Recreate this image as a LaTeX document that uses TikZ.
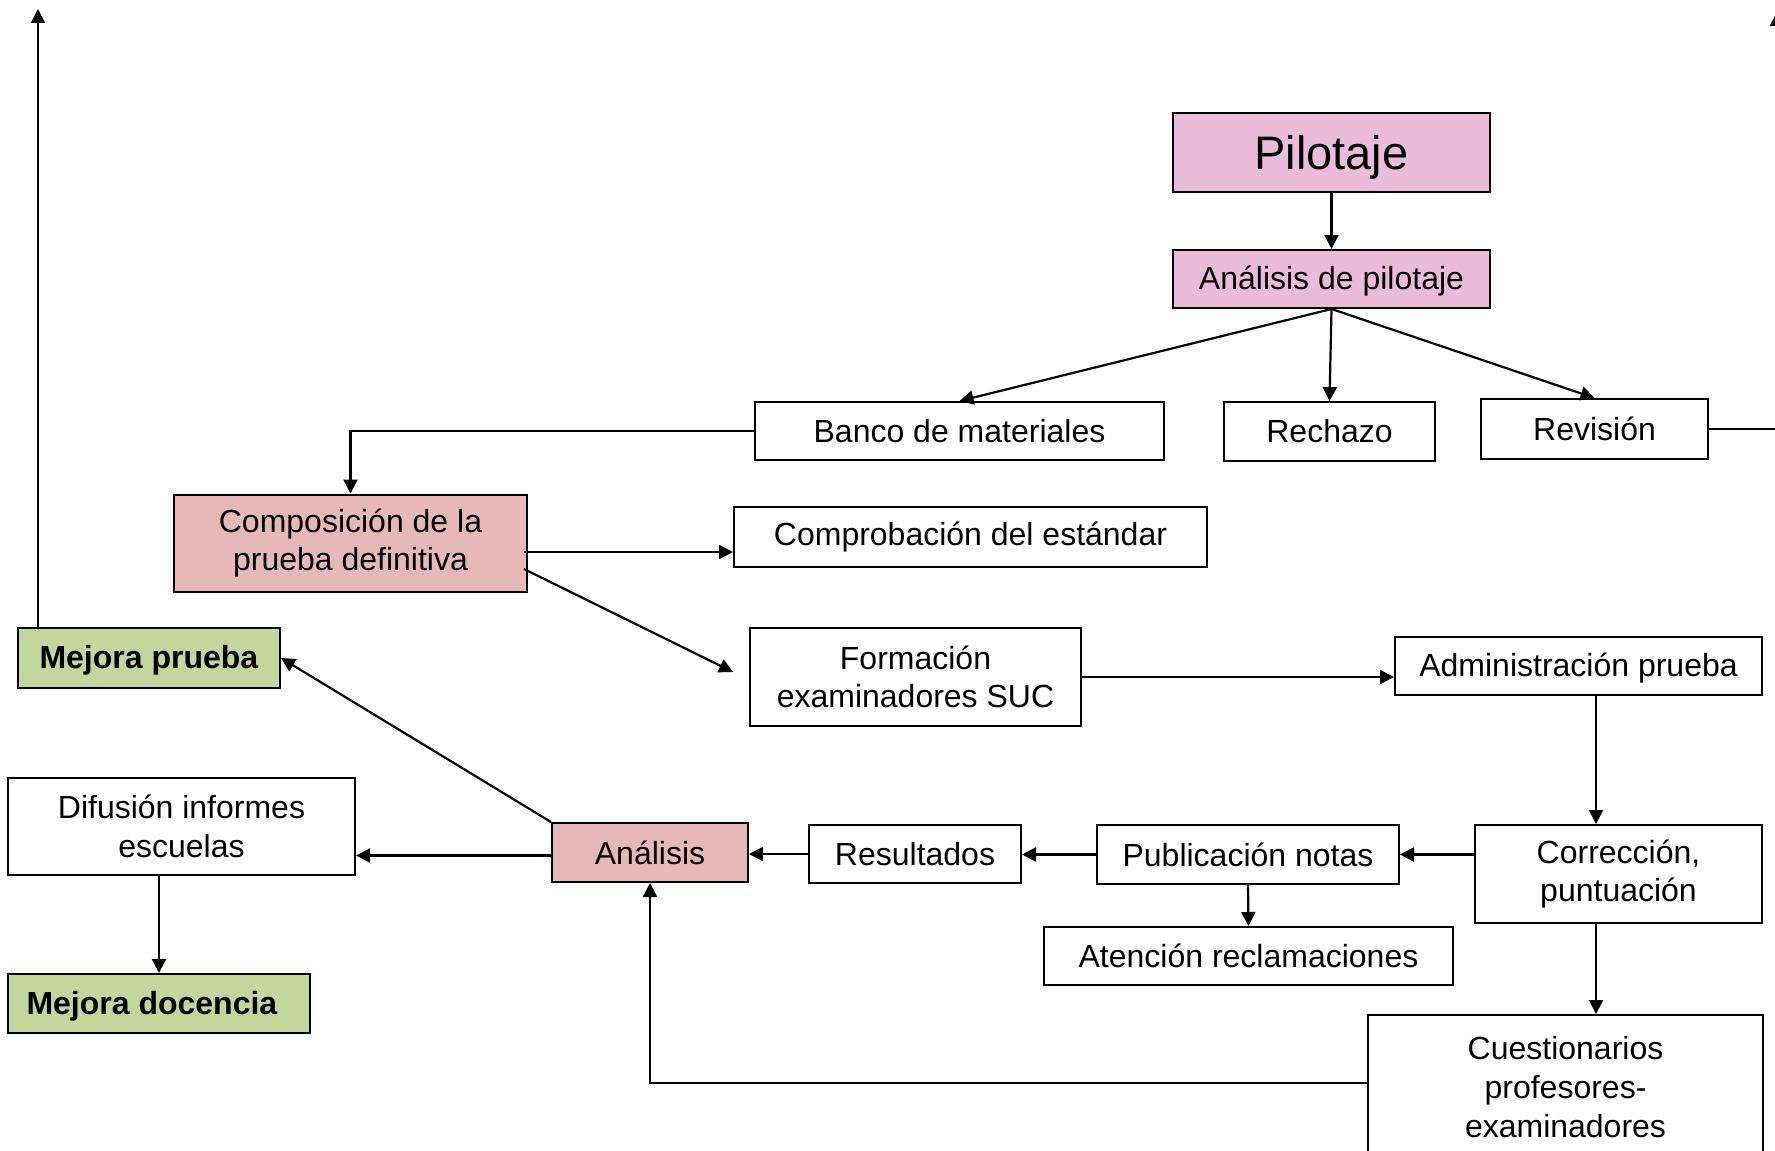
\documentclass[tikz,border=0pt]{standalone}
\usepackage{fontspec}
\setmainfont{Liberation Sans}
\usetikzlibrary{positioning}
\usetikzlibrary{arrows.meta}
\definecolor{pilpink}{RGB}{235,188,218}
\definecolor{rosebox}{RGB}{230,185,184}
\definecolor{greenbox}{RGB}{195,214,155}

\begin{document}
\begin{tikzpicture}[x=0.5pt,y=-0.5pt]
    \useasboundingbox (0,0) rectangle (1775,1150);
    \begin{scope}[every node/.style={draw,rectangle,line width=1pt,align=center,inner sep=0pt,font=\fontsize{16}{19.3}\selectfont},
        sz/.style 2 args={minimum width=#1pt,minimum height=#2pt}]
        \node(pil)[sz={158.5}{39.5},fill=pilpink,text depth=0pt,font=\fontsize{23.5}{28}\selectfont] at (1331.5,152.5) {Pilotaje};
        \node(anapil)[sz={158.5}{29},fill=pilpink,text depth=1pt] at (1331.5,279) {Análisis de pilotaje};
        \node(banco)[sz={204.5}{29}] at (959.5,431) {Banco de materiales};
        \node(rechazo)[sz={105.5}{29.5}] at (1329.5,431.5) {Rechazo};
        \node(revision)[sz={113.5}{30}] at (1594.5,429) {Revisión};
        \node(compo)[sz={176.5}{48.5},fill=rosebox] at (350.5,543) {Composición de la\\prueba definitiva};
        \node(comprob)[sz={236.5}{30}] at (970.5,537) {Comprobación del estándar};
        \node(formac)[sz={165.5}{49}] at (915.5,677) {Formación\\examinadores SUC};
        \node(admin)[sz={183.5}{29},text depth=1pt] at (1578.5,666) {Administración prueba};
        \node(mejprueba)[sz={131}{30},fill=greenbox,text depth=1pt] at (149,658) {\textbf{Mejora prueba}};
        \node(difusion)[sz={173.5}{48.5}] at (181.5,826.5) {Difusión informes\\escuelas};
        \node(mejdoc)[sz={151}{29.5},fill=greenbox,text depth=1pt] at (159,1003.5) {\textbf{Mejora docencia}\hspace{7pt}};
        \node(analisis)[sz={98}{29.5},fill=rosebox] at (650,852.5) {Análisis};
        \node(result)[sz={106}{29}] at (915,854) {Resultados};
        \node(public)[sz={151}{29.5}] at (1248,854.5) {Publicación notas};
        \node(atencion)[sz={204.5}{29}] at (1248.5,956) {Atención reclamaciones};
        \node(correc)[sz={143.5}{49}] at (1618.5,874) {Corrección,\\puntuación};
        \node(cuest)[sz={197.5}{72}] at (1565.5,1087) {Cuestionarios\\profesores-\\examinadores};
    \end{scope}
    \coordinate (topL) at (38,9);
    \coordinate (topR) at (1777,12);
    %Lines
    \begin{scope}[>={Triangle[black,width=7pt,length=7pt]}, line width=1.1pt]
        \draw[->] (pil) -- (anapil);
        \draw[->] (anapil.south) -- (banco.north);
        \draw[->] (anapil.south) -- (rechazo.north);
        \draw[->] (anapil.south) -- (revision.north);
        \draw[->] (revision.east) -| (topR);
        \draw[->] (banco.west) -| (compo.north);
        \draw[->] ([xshift=-2pt,yshift=-4.5pt]compo.east) -- ([yshift=-4.5pt]compo.east -| comprob.west);
        \draw[->] ([xshift=-2pt,yshift=-13pt]compo.east) -- ([xshift=-8pt,yshift=2.5pt]formac.west);
        \draw[->] (formac.east) -- (formac.east -| admin.west);
        \draw[->] ([xshift=-11.25pt]correc.north |- admin.south) -- ([xshift=-11.25pt]correc.north);
        \draw[->] (correc.west |- public.east) -- (public.east);
        \draw[->] (public.south) -- (atencion.north);
        \draw[->] (public.west) -- (public.west -| result.east);
        \draw[->] (result.west) -- (result.west -| analisis.east);
        \draw[->] ([xshift=-11.25pt]correc.south) -- ([xshift=-11.25pt]correc.south |- cuest.north);
        \draw[->] ([yshift=2pt]cuest.west) -| (analisis.south);
        \draw[->] ([yshift=-1.5pt]analisis.west) -- ([yshift=-1.5pt]analisis.west -| difusion.east);
        \draw[->] (analisis.north west) -- (mejprueba.east);
        \draw[->] (difusion.south -| mejdoc.north) -- (mejdoc.north);
        \draw[->] (topL |- mejprueba.north) -- (topL);
    \end{scope}
\end{tikzpicture}
\end{document}
